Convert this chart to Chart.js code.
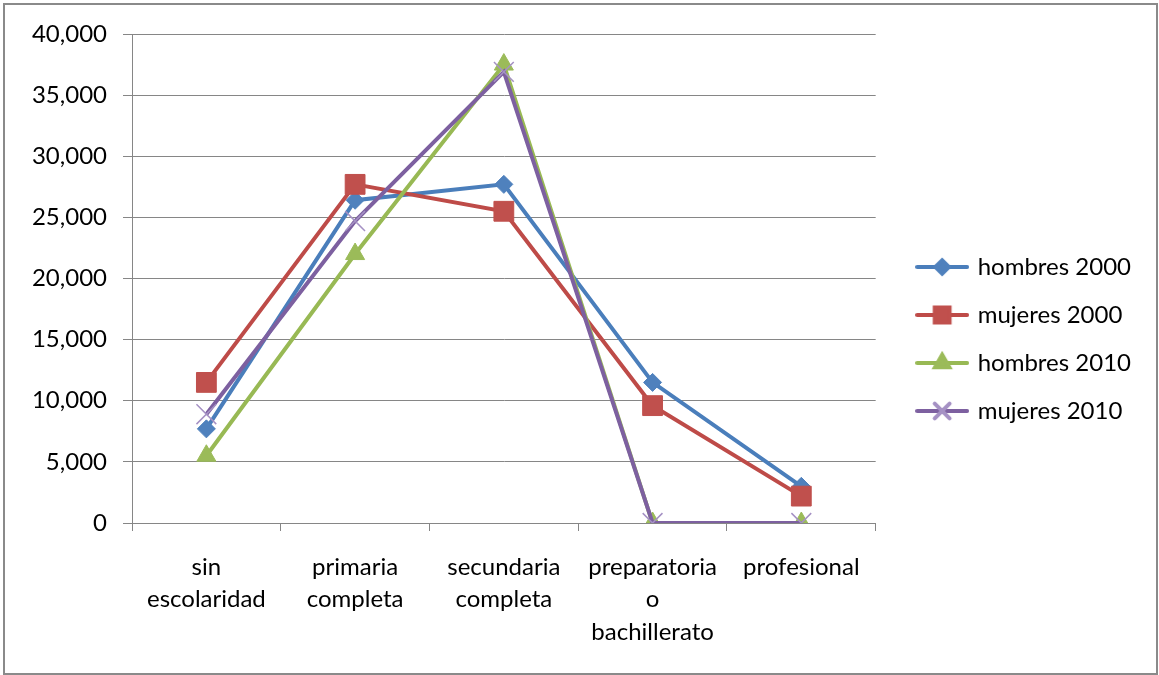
<!DOCTYPE html>
<html>
<head>
<meta charset="utf-8">
<script src="https://cdn.jsdelivr.net/npm/chart.js@4/dist/chart.umd.min.js"></script>
<style>
  body { margin: 0; background: #fff; }
  #wrap { position: relative; width: 1159px; height: 675px; }
  #frame {
    position: absolute; left: 3px; top: 3px; width: 1155px; height: 672px;
    box-sizing: border-box; border: 2px solid #8a8a8a; pointer-events: none;
  }
</style>
</head>
<body>
<div id="wrap">
  <canvas id="myChart" width="1159" height="675"></canvas>
  <div id="frame"></div>
</div>
<script>
const categories = [
  ["sin", "escolaridad"],
  ["primaria", "completa"],
  ["secundaria", "completa"],
  ["preparatoria", "o", "bachillerato"],
  ["profesional"],
];
const seriesNames = ["hombres 2000", "mujeres 2000", "hombres 2010", "mujeres 2010"];
const hombres2000 = [7700, 26400, 27700, 11500, 3000];
const mujeres2000 = [11500, 27700, 25500, 9600, 2200];
const hombres2010 = [5500, 22000, 37500, 0, 0];
const mujeres2010 = [8900, 24700, 36900, 0, 0];
const yTicks = [0, 5000, 10000, 15000, 20000, 25000, 30000, 35000, 40000];

const FONT = { family: "Lato", size: 24 };
const GRID = "#868686";

const styles = [
  { line: "#4A7EBB", fill: "#4F81BD", point: "rectRot", radius: 9, border: 1 },
  { line: "#BE4B48", fill: "#C0504D", point: "rect", radius: 14, border: 1 },
  { line: "#98B954", fill: "#9BBB59", point: "triangle", radius: 11, border: 1 },
  { line: "#7D60A0", fill: "#A591C4", point: "crossRot", radius: 14, border: 1.5 },
];

// little line + marker icon for the legend, like the excel one
function legendIcon(st) {
  let c = document.createElement("canvas");
  c.width = 54;
  c.height = 28;
  let g = c.getContext("2d");
  g.strokeStyle = st.line;
  g.lineWidth = 4;
  g.lineCap = "round";
  g.beginPath();
  g.moveTo(2, 14);
  g.lineTo(52, 14);
  g.stroke();
  g.fillStyle = st.fill;
  g.strokeStyle = st.fill;
  Chart.helpers.drawPoint(g, { pointStyle: st.point, radius: st.radius * 0.75, rotation: 0, borderWidth: st.border }, 27, 14);
  return c;
}

const allData = [hombres2000, mujeres2000, hombres2010, mujeres2010];

let datasets = allData.map((values, i) => {
  let st = styles[i];
  return {
    label: seriesNames[i],
    data: values,
    borderColor: st.line,
    backgroundColor: st.fill,
    borderWidth: 4,
    tension: 0,
    fill: false,
    pointStyle: st.point,
    pointRadius: st.radius,
    pointBackgroundColor: st.fill,
    pointBorderColor: st.fill,
    pointBorderWidth: st.border,
    order: allData.length - i,
  };
});

new Chart(document.querySelector("#myChart"), {
  type: "line",
  data: { labels: categories, datasets: datasets },
  options: {
    responsive: false,
    animation: false,
    layout: { padding: { top: 34, left: 0, right: 18, bottom: 31 } },
    plugins: {
      tooltip: { enabled: false },
      legend: {
        position: "right",
        maxWidth: 320,
        labels: {
          usePointStyle: true,
          pointStyleWidth: 47,
          padding: 24,
          color: "#000",
          font: FONT,
          generateLabels: (chart) =>
            chart.data.datasets.map((ds, i) => ({
              text: ds.label,
              datasetIndex: i,
              pointStyle: legendIcon(styles[i]),
              fillStyle: ds.backgroundColor,
              strokeStyle: ds.borderColor,
              lineWidth: 0,
              fontColor: "#000",
            })),
        },
      },
    },
    scales: {
      x: {
        offset: true,
        grid: { offset: true, drawOnChartArea: false, drawTicks: true, tickLength: 8, color: GRID },
        border: { color: GRID, width: 1 },
        ticks: { color: "#000", font: { ...FONT, lineHeight: 1.35 }, padding: 20, maxRotation: 0, autoSkip: false },
        afterFit: (scale) => { scale.height = 121; },
      },
      y: {
        min: 0,
        max: 40000,
        afterBuildTicks: (scale) => { scale.ticks = yTicks.map((v) => ({ value: v })); },
        grid: { color: GRID, tickLength: 9 },
        border: { color: GRID, width: 1 },
        ticks: {
          color: "#000",
          font: FONT,
          padding: 16,
          callback: (v) => Number(v).toLocaleString("en-US"),
        },
        afterFit: (scale) => { scale.width = 132; },
      },
      // empty axis only to leave the gap between plot and legend
      gap: {
        type: "linear",
        position: "right",
        min: 0,
        max: 1,
        grid: { display: false },
        border: { display: false },
        ticks: { display: false },
        afterFit: (scale) => { scale.width = 19; },
      },
    },
  },
});
</script>
</body>
</html>
